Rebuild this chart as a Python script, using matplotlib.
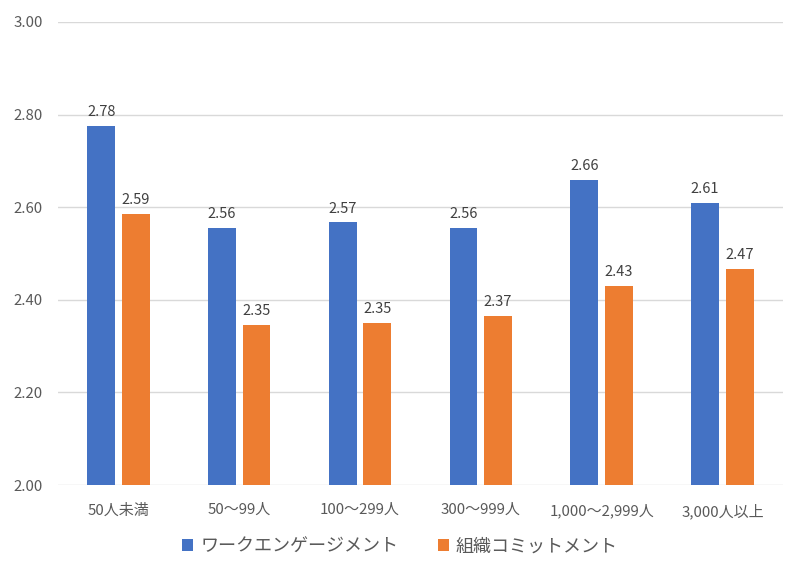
import matplotlib
matplotlib.use("Agg")
import matplotlib.pyplot as plt
import numpy as np

plt.rcParams['font.family'] = ['Noto Sans CJK JP', 'DejaVu Sans']

categories = ["50人未満", "50〜99人", "100〜299人", "300〜999人", "1,000〜2,999人", "3,000人以上"]
series_names = ["ワークエンゲージメント", "組織コミットメント"]
work_engagement = [2.776, 2.556, 2.567, 2.556, 2.658, 2.610]
org_commitment = [2.586, 2.346, 2.349, 2.366, 2.430, 2.466]
yticks = [2.00, 2.20, 2.40, 2.60, 2.80, 3.00]

colors = ["#4472C4", "#ED7D31"]
text_color = "#595959"

fig = plt.figure(figsize=(8, 5.64), dpi=100)
ax = fig.add_axes([0.0725, 0.140, 0.906, 0.821])

x = np.arange(len(categories))
w = 0.23
off = 0.143
b1 = ax.bar(x - off, work_engagement, w, color=colors[0], label=series_names[0], zorder=3)
b2 = ax.bar(x + off, org_commitment, w, color=colors[1], label=series_names[1], zorder=3)
for b in (b1, b2):
    ax.bar_label(b, fmt="%.2f", padding=5, fontsize=10.5, color="#404040")

ax.set_ylim(2.0, 3.0)
ax.set_xlim(-0.5, len(categories) - 0.5)
ax.set_yticks(yticks)
ax.set_yticklabels([f"{v:.2f}" for v in yticks])
ax.set_xticks(x)
ax.set_xticklabels(categories)
ax.tick_params(axis='both', length=0, labelsize=10.8, colors=text_color)
ax.tick_params(axis='y', pad=11)
ax.tick_params(axis='x', pad=13)
ax.yaxis.grid(True, color="#d9d9d9", linewidth=1, zorder=0)
for s in ax.spines.values():
    s.set_visible(False)

leg = fig.legend(handles=[b1, b2], labels=series_names, loc='center', bbox_to_anchor=(0.5, 0.031),
                 ncol=2, frameon=False, fontsize=13, handlelength=0.6, handleheight=0.6,
                 handletextpad=0.4, columnspacing=2.2, labelcolor=text_color)

fig.savefig("out.png", dpi=100)
